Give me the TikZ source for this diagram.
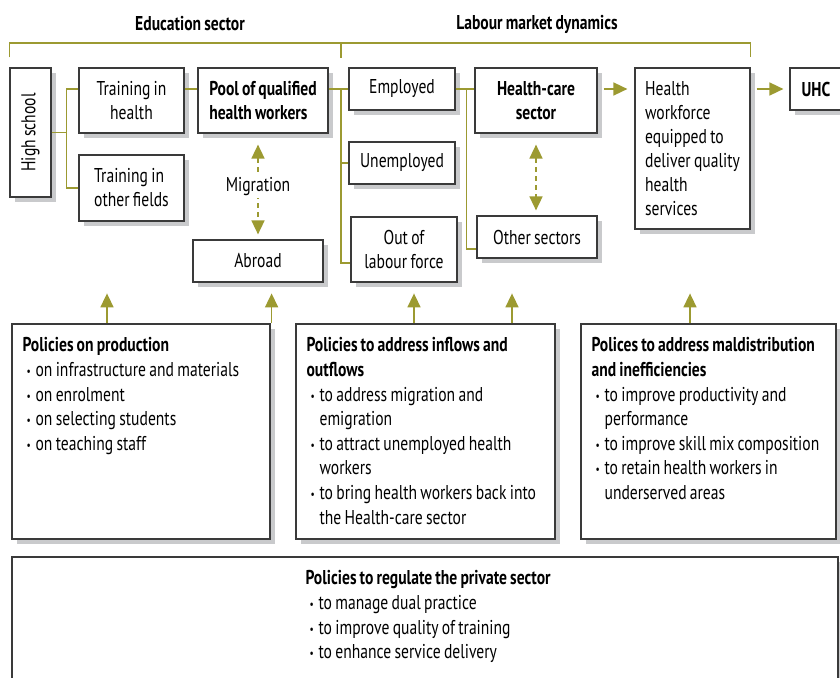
\documentclass[tikz,border=0pt]{standalone}
\usepackage{fontspec}
\setmainfont{PT Sans}[FakeStretch=0.78,WordSpace=0.8]
\usetikzlibrary{arrows.meta,shadows}
\definecolor{mustard}{HTML}{9C9A31}
\definecolor{boxline}{HTML}{3A3A3A}
\definecolor{shade}{HTML}{C9CACC}
\newcommand\bul{\hspace*{4pt}\makebox[9pt][l]{\raisebox{1pt}{\fontsize{12}{12}\selectfont\textbullet}}}
\newcommand\cont{\hspace*{13pt}}
\begin{document}
\begin{tikzpicture}[x=1pt,y=-1pt,
  font=\fontsize{20}{24}\selectfont,
  box/.style={draw=boxline,line width=1.2pt,fill=white,inner sep=0pt,
    drop shadow={shadow xshift=5pt,shadow yshift=-5pt,fill=shade,opacity=1}},
  link/.style={draw=mustard,line width=1.6pt},
  tip/.style={link,-{Triangle[width=13pt,length=14pt]}},
  both/.style={link,dash pattern=on 5pt off 4pt,{Triangle[width=13pt,length=14pt]}-{Triangle[width=13pt,length=14pt]}},
  ptxt/.style={anchor=north west,align=left,inner sep=0pt,xshift=11pt,yshift=-14pt,
    font=\fontsize{20}{24.6}\selectfont},
  head/.style={font=\fontsize{20}{24}\selectfont\bfseries}]
\useasboundingbox (0,0) rectangle (840,677);
\node[head] (edu) at (190,24) {Education sector};
\node[head] (lab) at (537,24) {Labour market dynamics};
% education side
\node[box,minimum width=41,minimum height=129,label={[rotate=90]center:High school}] (hs) at (30.5,132.5) {};
\node[box,minimum width=105,minimum height=65,align=center] (trh) at (131.5,100.5) {Training in\\health};
\node[box,minimum width=105,minimum height=66,align=left] (tro) at (131.5,188) {Training in\\other fields};
\node[box,minimum width=130,minimum height=65,align=left,font=\fontsize{20}{24}\selectfont\bfseries] (pool) at (263,100.5) {Pool of qualified\\health workers};
\node[box,minimum width=130,minimum height=42] (abroad) at (258,261) {Abroad};
% labour market
\node[box,minimum width=106,minimum height=42] (emp) at (402,89) {Employed};
\node[box,minimum width=106,minimum height=42] (unemp) at (402,163) {Unemployed};
\node[box,minimum width=106,minimum height=65,align=center] (olf) at (404,249.5) {Out of\\labour force};
\node[box,minimum width=122,minimum height=65,align=center,font=\fontsize{20}{24}\selectfont\bfseries] (hcs) at (536,100.5) {Health-care\\sector};
\node[box,minimum width=120,minimum height=42] (oth) at (537,237) {Other sectors};
\node[box,minimum width=115,minimum height=161,align=left] (hwf) at (692.5,148.5) {Health\\workforce\\equipped to\\deliver quality\\health\\services};
\node[box,minimum width=52,minimum height=42,font=\fontsize{20}{24}\selectfont\bfseries] (uhc) at (816,89) {UHC};
% policies
\node[box,minimum width=258,minimum height=215,label={[ptxt]north west:{\textbf{Policies on production}\\
\bul on infrastructure and materials\\
\bul on enrolment\\
\bul on selecting students\\
\bul on teaching staff}}] (pprod) at (141,431.5) {};
\node[box,minimum width=259,minimum height=215,label={[ptxt]north west:{\textbf{Policies to address inflows and}\\
\textbf{outflows}\\
\bul to address migration and\\
\cont emigration\\
\bul to attract unemployed health\\
\cont workers\\
\bul to bring health workers back into\\
\cont the Health-care sector}}] (pflow) at (425.5,431.5) {};
\node[box,minimum width=255,minimum height=215,label={[ptxt]north west:{\textbf{Polices to address maldistribution}\\
\textbf{and inefficiencies}\\
\bul to improve productivity and\\
\cont performance\\
\bul to improve skill mix composition\\
\bul to retain health workers in\\
\cont underserved areas}}] (pmal) at (708.5,431.5) {};
\node[box,minimum width=826,minimum height=150,label={[ptxt,xshift=283pt]north west:{\textbf{Policies to regulate the private sector}\\
\bul to manage dual practice\\
\bul to improve quality of training\\
\bul to enhance service delivery}}] (ppriv) at (425,632) {};
% bracket
\coordinate (br) at (341,43);
\draw[link] ([yshift=10pt]hs.north west) |- (br) -| ([yshift=10pt]hwf.north east);
\draw[link] (br) -- +(0,15);
% connectors
\coordinate (pj) at (341,89);
\draw[link] (hs.east) -- ++(15,0) coordinate (hsj);
\draw[link] (trh.west |- emp) -| (hsj) |- (tro.west);
\draw[link] (trh.east |- emp) -- (pool.west |- emp);
\draw[link] (pool.east |- emp) -- (emp.west);
\draw[link] (pj) |- (unemp.west);
\draw[link] (pj) |- ([yshift=-13.5pt]olf.west);
\draw[link] (emp.east) -- (hcs.west |- emp) coordinate (hj);
\draw[link] ([xshift=-8pt]hj) |- ([yshift=-12pt]oth.west);
\draw[tip,shorten <=6pt,shorten >=7pt] (hcs.east |- emp) -- (hwf.west |- emp);
\draw[tip,shorten <=6pt,shorten >=6pt] (hwf.east |- emp) -- (uhc.west);
\draw[both,shorten <=11pt,shorten >=5pt] (abroad.north |- pool.south) -- node[fill=white,inner sep=2pt] (mig) {Migration} (abroad.north);
\draw[both,shorten <=11pt,shorten >=5pt] (hcs.south) -- (hcs.south |- oth.north);
% policy arrows
\draw[tip] ([xshift=-34pt]pprod.north) -- +(0,-30);
\draw[tip] ([xshift=1pt]pprod.north east) -- +(0,-30);
\draw[tip] ([xshift=-11.5pt]pflow.north) -- +(0,-30);
\draw[tip] ([xshift=86.5pt]pflow.north) -- +(0,-30);
\draw[tip] ([xshift=-18.5pt]pmal.north) -- +(0,-30);
\end{tikzpicture}
\end{document}
